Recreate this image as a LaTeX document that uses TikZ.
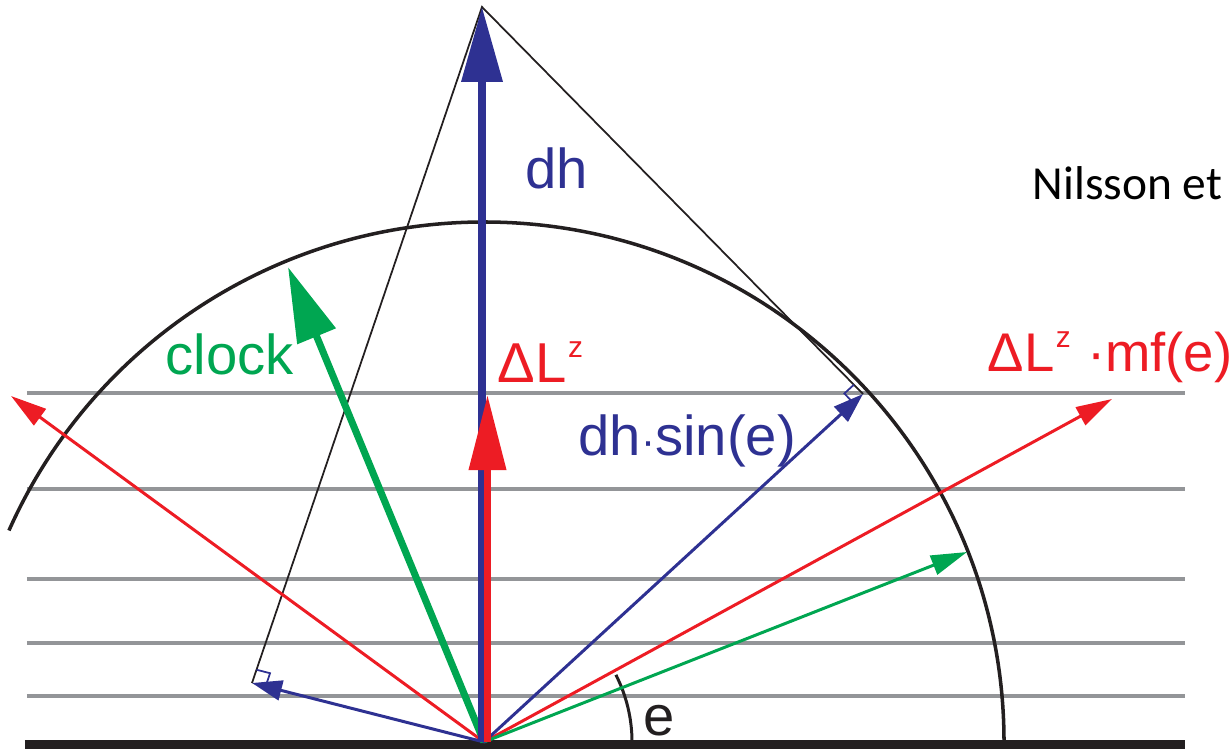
\documentclass[tikz,border=0pt]{standalone}
\usepackage{fontspec}
\setmainfont{Liberation Sans}
\newfontfamily\califont{Carlito}
\usetikzlibrary{arrows.meta,calc}
\definecolor{vblue}{RGB}{46,49,146}
\definecolor{vred}{RGB}{237,28,36}
\definecolor{vgreen}{RGB}{0,166,81}
\definecolor{vgray}{RGB}{147,149,152}
\definecolor{vblack}{RGB}{35,31,32}
\newcommand\supz{\raisebox{0.45em}{\fontsize{8.5}{10}\selectfont\kern0.05em z}}
\begin{document}
\begin{tikzpicture}[layer/.style={vgray,line width=1.15pt},guide/.style={vblack,line width=0.5pt},
  bigarrow/.style={line width=2pt,-{Triangle[length=7.5mm,width=4mm]}},
  smallarrow/.style={line width=0.85pt,-{Triangle[length=3.6mm,width=2mm]}},
  lbl/.style={font=\fontsize{16}{19}\selectfont,anchor=base west,inner sep=0pt}]
\useasboundingbox (-4.84,-0.06) rectangle (7.47,7.42);
\coordinate (o) at (0,0);
\coordinate (top) at (-0.02,7.35);
\coordinate (fl) at (-2.32,0.59);
\coordinate (fr) at (3.79,3.48);
\coordinate (ck) at (-1.96,4.75);
\coordinate (rl) at (-4.73,3.46);
\coordinate (rr) at (6.28,3.43);
\coordinate (gr) at (4.83,1.90);
% layers and horizon
\foreach \y in {0.46,0.99,1.63,2.53,3.49} \draw[layer] (-4.57,\y) -- (7.01,\y);
\draw[vblack,line width=1pt] (5.2,0) arc[start angle=0,end angle=156,radius=5.2];
\draw[vblack,line width=2.6pt] (-4.59,-0.03) -- (7.01,-0.03);
\draw[vblack,line width=0.85pt] (1.48,0) arc[start angle=0,end angle=27,radius=1.48];
% projection triangle
\draw[guide] (fl) -- (top) -- (fr);
\coordinate (fla) at ($(fl)!1.4mm!(o)$);\coordinate (flb) at ($(fl)!1.4mm!(top)$);
\coordinate (fra) at ($(fr)!1.3mm!(o)$);\coordinate (frb) at ($(fr)!1.3mm!(top)$);
\draw[vblue,line width=0.5pt] (fla) -- ($(fla)+(flb)-(fl)$) -- (flb);
\draw[vblue,line width=0.5pt] (fra) -- ($(fra)+(frb)-(fr)$) -- (frb);
% vectors
\draw[smallarrow,vred] (o) -- (rl);
\draw[smallarrow,vred] (o) -- (rr);
\draw[smallarrow,vgreen] (o) -- (gr);
\draw[smallarrow,vblue,-{Triangle[length=3mm,width=2mm]}] (o) -- (fl);
\draw[smallarrow,vblue,-{Triangle[length=3mm,width=2mm]}] (o) -- (fr);
\draw[bigarrow,vgreen] (o) -- (ck);
\draw[bigarrow,vblue] (-0.02,0) -- (top);
\draw[bigarrow,vred,-{Triangle[length=7.5mm,width=3.6mm]}] (0.035,0) -- (0.035,3.47);
% labels
\node[lbl,text=vblue] (dh) at (0.41,5.53) {dh};
\node[lbl,text=vgreen] (clock) at (-3.19,3.67) {clock};
\node[lbl,text=vred] (dl) at (0.13,3.59) {ΔL\supz};
\node[lbl,text=vred,font=\fontsize{15.5}{18}\selectfont] (dlmf) at (5.03,3.70) {ΔL\supz\hspace{0.3em}·mf(e)};
\node[lbl,text=vblue] (dhs) at (0.94,2.87) {dh{\fontsize{12}{14}\selectfont·}sin(e)};
\node[lbl,text=vblack] (e) at (1.59,0.07) {e};
\node[anchor=base west,inner sep=0pt,font=\califont\fontsize{13.5}{16}\selectfont] (cite) at (5.48,5.42) {Nilsson et};
\end{tikzpicture}
\end{document}
